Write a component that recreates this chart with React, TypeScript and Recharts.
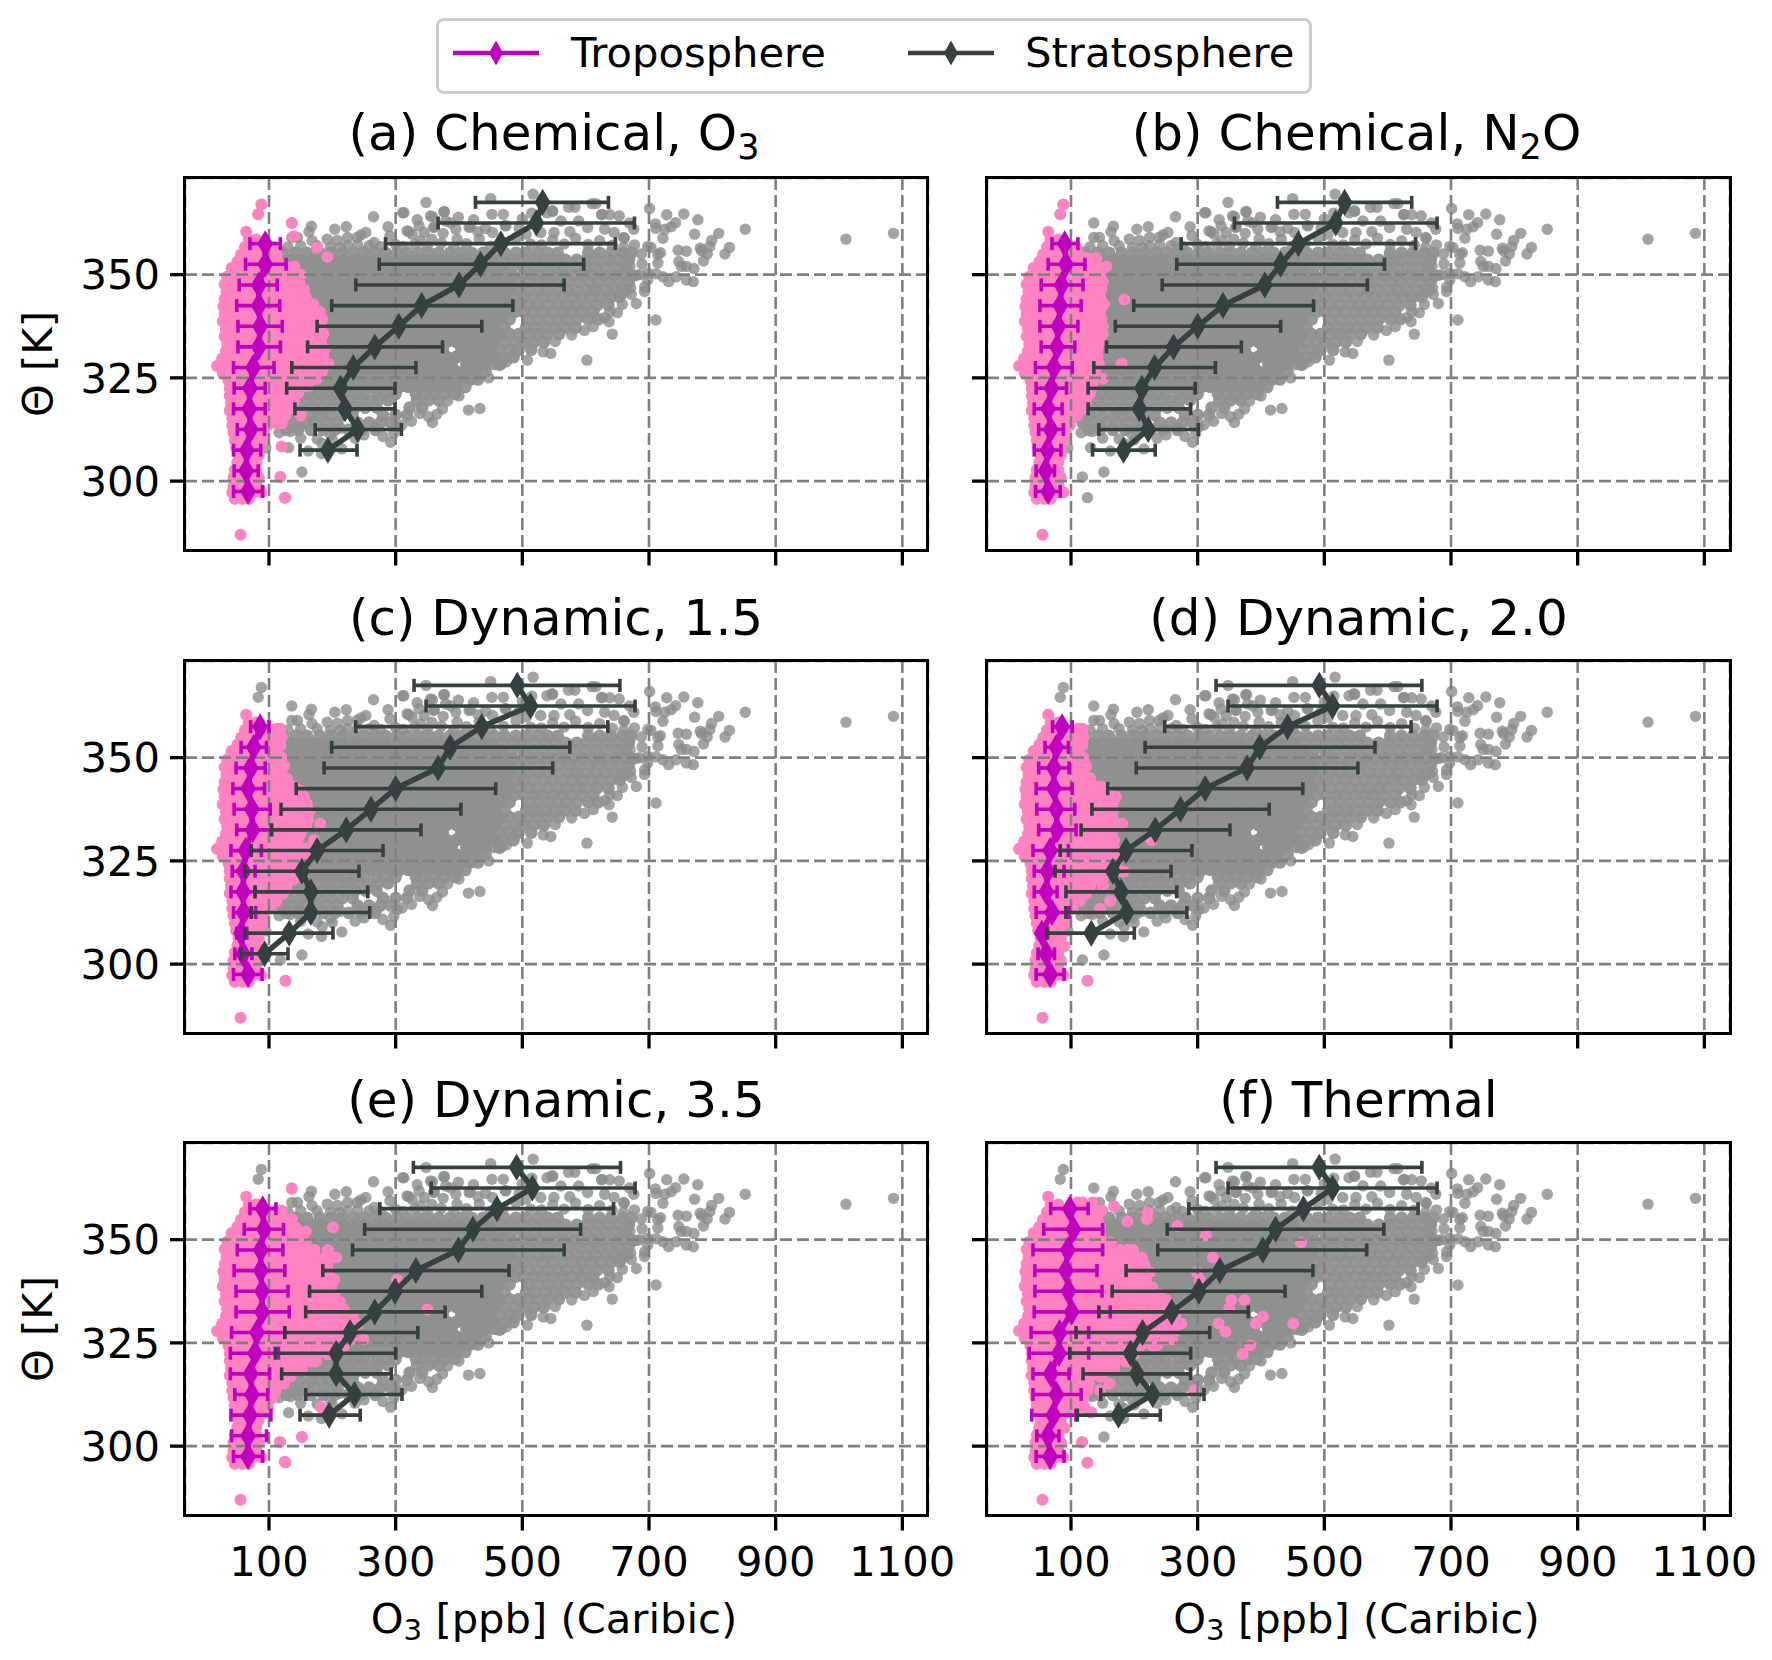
import React from "react";
import { CartesianGrid, ErrorBar, Scatter, ScatterChart, XAxis, YAxis } from "recharts";

const FONT = "'DejaVu Sans', sans-serif";
const MAGENTA = "#bf00bf";
const DARK = "#374040";

const xTicks = [100, 300, 500, 700, 900, 1100];
const yTicks = [300, 325, 350];

// potential temperature bins of the profiles, top down
const thetaTrop = [357.5, 352.5, 347.5, 342.5, 337.5, 332.5, 327.5, 322.5, 317.5, 312.5, 307.5, 302.5, 297.5];
const thetaStrat = [367.5, 362.5, 357.5, 352.5, 347.5, 342.5, 337.5, 332.5, 327.5, 322.5, 317.5, 312.5, 307.5, 302.5];

// [mean, low, high]
const tropA = [[94, 70, 118], [94, 63, 127], [84, 53, 113], [84, 49, 117], [86, 51, 121], [84, 51, 118], [75, 44, 108], [70, 45, 94], [69, 44, 94], [71, 50, 93], [65, 44, 87], [64, 45, 83], [67, 44, 90]];
const stratA = [[532, 426, 636], [522, 367, 677], [466, 284, 647], [434, 274, 597], [400, 237, 566], [341, 199, 485], [305, 176, 436], [267, 161, 374], [233, 136, 332], [213, 128, 299], [220, 141, 299], [240, 173, 309], [193, 149, 239]];
const tropB = [[90, 70, 111], [92, 64, 122], [85, 53, 119], [83, 51, 116], [80, 51, 111], [78, 53, 106], [73, 44, 102], [69, 45, 93], [64, 42, 86], [68, 49, 88], [63, 42, 84], [60, 45, 74], [64, 44, 83]];
const stratB = [[532, 426, 638], [518, 358, 678], [459, 274, 644], [431, 267, 595], [406, 244, 568], [340, 199, 483], [300, 170, 431], [262, 156, 369], [232, 136, 328], [212, 127, 296], [208, 127, 289], [222, 144, 301], [183, 134, 233]];
const tropC = [[86, 71, 100], [76, 56, 96], [71, 48, 94], [67, 43, 93], [73, 45, 102], [74, 49, 104], [63, 40, 88], [60, 42, 78], [59, 40, 78], [60, 44, 79], [56, 49, 65], [59, 46, 73], [67, 44, 89]];
const stratC = [[492, 329, 654], [513, 348, 678], [436, 237, 635], [386, 199, 575], [367, 187, 548], [300, 143, 458], [261, 119, 403], [222, 104, 340], [176, 72, 280], [152, 62, 242], [166, 78, 256], [166, 72, 259], [132, 62, 201], [93, 56, 130]];
const tropD = [[86, 71, 102], [77, 59, 96], [73, 49, 97], [73, 45, 102], [77, 46, 106], [78, 49, 108], [67, 40, 96], [63, 42, 89], [61, 42, 78], [70, 45, 97], [54, 49, 63], [61, 48, 74], [67, 45, 89]];
const stratD = [[492, 329, 654], [513, 348, 678], [442, 248, 637], [398, 217, 580], [378, 203, 553], [312, 158, 466], [273, 133, 413], [233, 116, 351], [187, 83, 291], [166, 75, 258], [179, 92, 267], [188, 92, 283], [132, 62, 200]];
const tropE = [[90, 70, 111], [92, 61, 123], [87, 50, 122], [87, 45, 125], [89, 48, 130], [89, 48, 132], [81, 41, 125], [78, 39, 115], [71, 39, 101], [73, 46, 98], [70, 40, 103], [67, 41, 96], [67, 44, 90]];
const stratE = [[491, 328, 655], [516, 356, 678], [460, 275, 644], [422, 251, 592], [399, 232, 566], [332, 185, 479], [299, 164, 436], [267, 158, 378], [228, 125, 335], [206, 110, 300], [206, 120, 293], [235, 158, 310], [195, 149, 244]];
const tropF = [[98, 68, 127], [104, 57, 150], [95, 40, 150], [92, 43, 141], [96, 43, 149], [101, 42, 162], [82, 37, 128], [81, 34, 128], [68, 40, 97], [77, 40, 116], [72, 38, 108], [64, 46, 81], [67, 45, 89]];
const stratF = [[492, 329, 654], [513, 348, 678], [467, 286, 648], [423, 252, 594], [403, 237, 567], [335, 187, 482], [302, 165, 438], [259, 144, 380], [213, 108, 319], [194, 98, 289], [204, 119, 289], [229, 147, 310], [175, 110, 241]];

// dense part of the Caribic cloud, same in every panel: [theta, O3 values]
const caribicRows: [number, number[]][] = [
  [353.5, [118, 134, 150, 168, 184, 202, 218, 236, 252, 270, 286, 302, 320, 336, 352, 370, 386, 402, 420, 436, 452]],
  [351.7, [124, 140, 156, 172, 188, 206, 222, 238, 254, 272, 288, 304, 320, 336, 354, 370, 386, 402, 418, 436, 452, 468]],
  [349.9, [118, 132, 148, 164, 180, 196, 212, 228, 244, 260, 276, 292, 308, 324, 340, 356, 372, 388, 404, 420, 436, 452, 468]],
  [348.1, [124, 140, 155, 170, 186, 200, 216, 232, 248, 262, 278, 294, 310, 326, 340, 356, 372, 388, 402, 418, 434, 450, 466, 480]],
  [346.3, [118, 132, 147, 162, 178, 192, 207, 222, 238, 252, 268, 282, 298, 314, 328, 344, 358, 374, 388, 404, 420, 434, 450, 464, 480]],
  [344.5, [124, 139, 154, 169, 184, 199, 214, 230, 245, 260, 275, 290, 305, 320, 336, 350, 366, 380, 396, 412, 426, 442, 458, 472]],
  [342.7, [118, 132, 147, 162, 177, 192, 207, 222, 238, 252, 268, 282, 298, 313, 328, 344, 358, 374, 388, 404, 418, 434, 448, 464, 480]],
  [340.9, [124, 139, 154, 169, 184, 199, 214, 230, 245, 260, 275, 290, 305, 320, 336, 350, 366, 380, 396, 412, 426, 442, 456, 472]],
  [339.1, [118, 132, 147, 162, 177, 192, 207, 222, 238, 252, 268, 282, 298, 313, 328, 344, 358, 374, 388, 404, 418, 434, 448, 464]],
  [337.3, [124, 139, 154, 169, 184, 199, 214, 230, 245, 260, 275, 290, 305, 320, 336, 350, 366, 380, 396, 412, 426, 442, 456]],
  [335.5, [118, 132, 147, 162, 177, 192, 207, 222, 238, 252, 268, 282, 298, 313, 328, 344, 358, 374, 388, 404, 418, 434, 448, 464]],
  [333.7, [124, 139, 154, 169, 184, 199, 214, 230, 245, 260, 275, 290, 305, 320, 336, 350, 366, 380, 396, 412, 426, 442, 456]],
  [331.9, [118, 132, 147, 162, 177, 192, 207, 222, 238, 252, 268, 282, 298, 313, 328, 344, 358, 374, 404, 418, 434, 448]],
  [330.1, [124, 139, 154, 169, 184, 199, 214, 230, 245, 260, 275, 290, 305, 320, 336, 350, 366, 380, 396, 412, 426, 442, 456]],
  [328.3, [118, 132, 147, 162, 177, 192, 207, 222, 238, 252, 268, 282, 298, 313, 328, 344, 358, 374, 388, 412, 426, 440]],
  [326.5, [112, 126, 139, 154, 169, 184, 199, 214, 230, 245, 260, 275, 290, 305, 320, 336, 350, 366, 380, 396, 410, 426]],
  [324.7, [118, 132, 147, 162, 177, 192, 207, 222, 238, 252, 268, 282, 298, 313, 328, 344, 358, 374, 388, 404, 418]],
  [322.9, [112, 126, 139, 154, 169, 184, 199, 214, 230, 245, 262, 276, 292, 306, 320, 336, 350, 368, 382, 396]],
];

// looser parts of the cloud, where single dots start to show: [theta, O3 values]
const caribicLooseRows: [number, number[]][] = [
  [355.3, [122, 142, 160, 180, 198, 216, 234, 250, 268, 284, 302, 318, 336, 352, 368, 386, 404, 420, 438, 456, 472, 490, 506, 524, 540, 556, 604, 622, 640, 658, 672]],
  [353.6, [470, 486, 502, 520, 536, 552, 568, 586, 602, 618, 636, 652, 668]],
  [351.8, [484, 502, 518, 534, 550, 566, 584, 600, 616, 632, 650, 664]],
  [349.8, [484, 500, 516, 532, 548, 564, 580, 596, 612, 628, 644, 660, 674]],
  [348.2, [496, 512, 528, 542, 558, 574, 590, 606, 620, 636, 652, 668]],
  [346.2, [496, 510, 526, 540, 556, 572, 586, 602, 616, 632, 648, 664]],
  [344.6, [488, 502, 518, 534, 548, 564, 580, 594, 610, 624, 640, 654]],
  [342.6, [494, 510, 524, 540, 556, 570, 586, 600, 618, 636]],
  [341, [488, 502, 518, 532, 548, 564, 578, 594, 612]],
  [339.2, [480, 510, 524, 540, 556, 570, 586, 604, 620]],
  [337.2, [472, 506, 522, 538, 552, 568, 584]],
  [335.6, [480, 494, 510, 524, 540, 558]],
  [333.6, [472, 488, 502, 518, 534]],
  [331.8, [464, 480, 494, 514]],
  [330, [472, 486]],
  [328.4, [456, 466]],
  [326.6, [442]],
  [324.6, [430]],
  [322.8, [410]],
  [321.1, [118, 132, 147, 162, 177, 192, 207, 222, 238, 250, 270, 284, 300, 332, 346, 362, 378, 394]],
  [319.6, [112, 128, 144, 160, 176, 192, 208, 224, 240, 256, 272, 288, 334, 352, 368]],
  [317.8, [116, 132, 150, 168, 184, 200, 218, 236, 252, 270, 322, 342]],
  [316, [112, 130, 148, 166, 182, 198, 216, 232, 280, 300, 318]],
  [314.2, [118, 136, 156, 172, 190, 208, 240, 258, 276, 292]],
  [312.4, [128, 146, 166, 186, 204, 226, 246, 268]],
];

// sparse points on the rim of the cloud: [O3, theta]
const caribicLoose = [
  [1086, 360], [1011, 358.6], [852, 361], [810, 360], [777, 363.3], [755, 364.7], [728, 364.5], [701, 366], [742, 362.6], [735, 361.6],
  [725, 361], [710, 362.3], [711, 361.2], [722, 358.8], [772, 359.8], [799, 358.3], [796, 356.8], [781, 356.4], [783, 355.8], [792, 355],
  [786, 353.3], [827, 356.6], [820, 355], [746, 355.9], [759, 355.7], [718, 355.3], [714, 354.9], [714, 352.8], [747, 353.2], [759, 352],
  [771, 351.5], [751, 352], [770, 348.3], [759, 348.7], [743, 349.5], [731, 348.3], [722, 349.5], [711, 350.2], [685, 350], [698, 350.3],
  [698, 356.8], [703, 356.6], [689, 352.6], [693, 347], [698, 348.7], [680, 343], [693, 345.9], [711, 339], [642, 335.6], [637, 338.6],
  [638, 341], [658, 342.8], [656, 345.5], [671, 346.7], [670, 352], [669, 353.6], [677, 357.2], [661, 358.8], [676, 361], [669, 362.5],
  [653, 364.2], [638, 364.5], [625, 364.5], [616, 367.2], [610, 367.2], [583, 366.3], [573, 366.3], [548, 365.3], [517, 369.5], [515, 364.9],
  [470, 364.6], [452, 364.6], [450, 368.4], [348, 367.5], [377, 365.3], [358, 364], [361, 361.6], [334, 363.3], [337, 361.8], [313, 365],
  [321, 360.4], [423, 363.3], [399, 363.9], [387, 362.5], [418, 361.6], [442, 361.2], [473, 361.9], [500, 363.5], [602, 329.3], [533, 331.3],
  [545, 330.9], [508, 329.3], [433, 317.6], [415, 317.2], [374, 317.5], [365, 316.2], [358, 314.2], [325, 314.5], [447, 325], [464, 328],
  [475, 328.9], [488, 331], [292, 309.4], [297, 311.6], [302, 313.2], [215, 307.8], [183, 306.7], [184, 309.1], [162, 307.3], [131, 308.1],
  [152, 302.2], [95, 308], [116, 311.7], [147, 313.3], [134, 312], [197, 311.2], [213, 312.8], [268, 312.8], [250, 311.2], [118, 301],
  [126, 296], [88, 367], [83, 364.6], [136, 362.5], [136, 359], [145, 359], [167, 361.7], [163, 360.4], [204, 361], [222, 361.6],
  [265, 364], [288, 361.6], [311, 365], [355, 364.2], [376, 365.2], [192, 358.6], [208, 358.3], [168, 358.2], [176, 357], [253, 360.2],
  [245, 359.6], [239, 359], [266, 357.8], [224, 359], [224, 357], [197, 356.6], [213, 356.6], [291, 359.4], [318, 360.6], [326, 359.8],
  [339, 358.2], [360, 361.4], [357, 358.6], [379, 363], [397, 358.6], [416, 361.4], [453, 360.2], [474, 361.8], [529, 360.2], [539, 365],
  [547, 365.5], [561, 363], [589, 363], [603, 361.4], [626, 364.6], [645, 360.2], [660, 359], [513, 357.4], [550, 360.2], [300, 357.3],
  [312, 356.8], [330, 357.4], [350, 356.9], [372, 357.6], [392, 356.7], [412, 357.5], [432, 358.6], [450, 356.9], [470, 357.6], [490, 358.9],
  [506, 359.8], [530, 357.2], [548, 358.4], [566, 357.4], [584, 358.8], [604, 357.3], [622, 358.2], [642, 357.1], [660, 356.6], [258, 357],
  [276, 356.8], [240, 357.2], [150, 357], [130, 356.7], [345, 360.2], [375, 360], [395, 361], [430, 360.4], [495, 361.2], [575, 360.4],
  [630, 361], [688, 355], [680, 349.8], [672, 345.2], [650, 340.8], [630, 339.6], [612, 337.4], [598, 336.5], [578, 335.4], [552, 333.8],
  [382, 319.4], [400, 320.6], [352, 315.6], [338, 316.4], [310, 313.6], [280, 310.8], [236, 310.4], [176, 310.2], [200, 310], [150, 310.4],
];

// pink points shared by all panels: [theta, O3 values]
const tropCoreRows: [number, number[]][] = [
  [358.5, [68, 80]], [356.7, [62, 75, 88, 100, 108]], [354.9, [56, 68, 80, 92, 104, 112]], [353.1, [50, 62, 74, 88, 102, 114]],
  [351.3, [44, 58, 72, 86, 100, 112]], [349.5, [34, 46, 58, 70, 82, 96, 110]], [347.7, [30, 44, 58, 72, 86, 100, 114]], [345.9, [33, 46, 58, 70, 82, 94, 108, 120]],
  [344.1, [30, 44, 58, 72, 86, 100, 114]], [342.3, [28, 40, 52, 64, 78, 92, 106, 120]], [340.5, [30, 42, 56, 70, 84, 98, 112]], [338.7, [27, 40, 52, 64, 78, 92, 106, 120]],
  [336.9, [32, 44, 56, 70, 84, 98, 112]], [335.1, [30, 42, 54, 66, 78, 92, 106, 120]], [333.3, [34, 44, 56, 70, 84, 98, 112]], [331.5, [32, 44, 56, 68, 82, 96, 110, 122]],
  [329.7, [26, 38, 50, 62, 76, 90, 104, 118]], [327.9, [18, 30, 42, 54, 68, 82, 96, 110]], [326.1, [27, 40, 52, 64, 78, 92, 106, 118]], [324.3, [36, 46, 58, 72, 86, 100, 114]],
  [322.5, [38, 50, 62, 76, 90, 104, 116]], [320.7, [38, 48, 60, 74, 88, 102, 112]], [318.9, [40, 52, 64, 78, 92, 104]], [317.1, [38, 48, 60, 74, 88, 100]],
  [315.3, [42, 52, 64, 78, 90, 102]], [313.5, [42, 52, 62, 76, 90, 98]], [311.7, [44, 56, 68, 82, 92]], [309.9, [46, 56, 66, 80, 90]], [308.1, [48, 58, 70, 82]],
  [306.3, [52, 62, 74, 84]], [304.5, [50, 60, 70, 80]], [302.7, [46, 56, 68, 80]], [300.9, [44, 54, 64, 76, 84]], [299.1, [46, 56, 68, 80]],
  [297.3, [42, 50, 62, 76, 88]], [295.7, [46, 58, 68]],
];

// single pink dots found in all panels: [O3, theta]
const tropLoose = [[55, 287], [64, 360.4], [41, 351.6], [44, 298.8]];

// how far the pink reaches into the cloud, per panel
const tropExtraA: [number, number[]][] = [
  [367, [88]], [364.6, [83]], [362.5, [136]], [359.3, [139]], [356.6, [176]], [354.3, [192]], [352, [126, 140]], [350, [124, 138, 150]], [348.2, [126, 140, 148]],
  [346.4, [130, 144, 155]], [344.6, [130, 145, 158]], [342.8, [134, 148, 164, 170]], [341, [128, 143, 158, 172, 180]], [339.2, [134, 150, 166, 178, 184]],
  [337.4, [130, 145, 160, 175, 182]], [335.6, [134, 148, 164, 178, 186]], [333.8, [130, 146, 162, 178, 182]], [332, [134, 150, 166, 180, 188]], [330.2, [130, 146, 162, 178, 186]],
  [328.4, [126, 142, 158, 174, 186, 194]], [326.6, [130, 146, 162, 176, 184]], [324.8, [126, 142, 158, 172, 176]], [323, [128, 142, 156, 162]], [321.2, [126, 140, 146]],
  [319.4, [118, 132, 140]], [317.6, [114, 128, 136]], [315.8, [114, 126, 150]], [314, [112, 120]], [308.4, [120]], [301, [118]], [296, [125]],
];
const tropExtraB: [number, number[]][] = [
  [367, [88]], [364.6, [83]], [354, [125, 140]], [352, [126, 142, 156]], [350, [126, 140, 148]], [348.2, [128, 142, 150]], [346.4, [130, 144, 148]], [344.6, [128, 142, 146]],
  [344, [184]], [342.8, [132, 146, 152]], [341, [128, 142, 146]], [339.2, [132, 146, 148]], [337.4, [128, 142, 150]], [335.6, [132, 146, 150]], [333.8, [128, 142, 146]],
  [332, [132, 142]], [330.2, [128, 142]], [328.4, [124, 138, 144, 180]], [326.6, [124, 138]], [324.8, [124, 138, 150]], [323, [126, 134]], [321.2, [124, 130]],
  [319.4, [116, 124]], [317.6, [114, 122]], [315.8, [110]],
];
const tropExtraC: [number, number[]][] = [
  [357, [112, 118]], [355, [114, 120]], [353, [118]], [350, [120]], [348, [120, 124]], [345, [122, 128]], [343, [125, 135, 140]], [342, [130, 140, 150]], [340.5, [125, 140, 155]],
  [338.7, [130, 145, 160]], [337, [126, 140, 155, 164]], [335.1, [125, 140, 155, 162]], [334, [181]], [333.3, [130, 145, 158]], [331.5, [125, 140, 150]], [330, [130, 145, 171]],
  [328, [125, 140, 155, 160]], [326.1, [125, 138, 155, 162]], [324.3, [122, 136, 146]], [322.5, [125, 134, 140]], [320.7, [122, 135, 140]], [319, [118, 128]], [317.1, [116, 122]],
  [315.3, [104, 112]], [313.5, [102]], [296, [126]],
];
const tropExtraD: [number, number[]][] = [
  [357, [112, 118]], [355, [114, 120]], [353, [118]], [350, [120]], [348, [120, 124]], [345, [122, 130]], [343, [125, 140, 148]], [342, [130, 148, 158]], [340.5, [125, 140, 155, 171]],
  [338.7, [130, 145, 160, 166]], [337, [126, 140, 155, 166]], [335.1, [125, 140, 155, 166]], [334, [181]], [333.3, [130, 145, 160, 166]], [331.5, [125, 140, 155, 164]], [330, [130, 145, 160, 168, 227]],
  [328, [125, 140, 155, 168]], [326.1, [125, 140, 155, 170]], [324.3, [122, 136, 150, 165, 172]], [322.4, [125, 140, 155, 170, 183]], [320.7, [122, 135, 146, 150]], [319, [118, 130, 150]],
  [317.1, [116, 124]], [315.3, [108, 114, 162]], [313.4, [102, 146]], [304.4, [90]], [296, [126]],
];
const tropExtraE: [number, number[]][] = [
  [362.3, [136]], [357, [112, 120]], [355, [118, 130, 136]], [353, [122, 136, 142, 201]], [352, [158]], [351, [126, 140, 148]], [349.3, [126, 140, 152, 158]], [347.5, [130, 144, 158, 172, 193]],
  [345.7, [126, 140, 156, 172, 188, 206]], [343.9, [130, 146, 162, 178, 192]], [342.1, [126, 142, 158, 174, 190, 194]], [340.3, [130, 146, 162, 178, 192, 203, 302]], [338.5, [126, 142, 158, 174, 190, 198]],
  [336.7, [130, 146, 162, 178, 196, 204]], [334.9, [126, 142, 158, 174, 190, 206, 212]], [333.1, [130, 146, 162, 178, 196, 210, 218, 350]], [331.3, [126, 142, 158, 174, 190, 206, 224, 232]],
  [329.5, [130, 146, 162, 178, 196, 214, 232, 240]], [327.7, [126, 142, 158, 174, 190, 208, 222, 232]], [325.9, [130, 146, 162, 178, 196, 214, 230, 249]], [324.1, [126, 142, 158, 176, 192, 210, 218]],
  [322.3, [128, 144, 160, 176, 192, 198]], [320.5, [122, 138, 154, 168, 174]], [318.7, [116, 132, 148, 152]], [316.9, [112, 128, 134]], [315.1, [108, 118, 124]], [313.3, [100, 110]], [311.5, [100, 104]],
  [309.5, [98, 182]], [302.2, [152]], [301, [117]], [296.2, [125]],
];
const tropExtraF: [number, number[]][] = [
  [359, [110, 118, 134]], [358, [168]], [357, [112, 128, 142, 148]], [356.6, [221]], [355, [118, 134, 142, 220]], [354.4, [189]], [353.3, [122, 138, 146, 268]], [351, [125, 140, 146, 313]],
  [349.3, [125, 140, 155, 163, 463]], [347.5, [130, 146, 162, 178, 190, 198]], [345.7, [126, 142, 158, 174, 190, 206, 212, 324]], [343.9, [130, 146, 162, 178, 194, 210, 216]],
  [342.1, [126, 142, 158, 174, 190, 206, 216, 224, 299]], [340.3, [130, 146, 162, 178, 194, 210, 218, 303]], [338.5, [126, 142, 158, 174, 190, 206, 222, 228]], [336.7, [130, 146, 162, 178, 194, 212, 230, 240]],
  [335.4, [126, 142, 158, 174, 190, 206, 224, 240, 250, 353, 374]], [333.3, [130, 146, 162, 178, 194, 212, 230, 248, 254, 350]], [331.3, [126, 142, 158, 174, 190, 206, 224, 240, 254, 264, 403]],
  [329.7, [130, 146, 162, 178, 194, 212, 230, 248, 264, 274, 333, 392, 451]], [327.7, [126, 142, 158, 174, 190, 206, 224, 240, 256, 264, 344]], [325.9, [130, 146, 162, 178, 194, 212, 230, 250, 260]],
  [324.4, [126, 142, 158, 174, 190, 210, 228, 236, 383]], [322.3, [128, 144, 160, 176, 192, 200, 371]], [320.5, [122, 138, 154, 170, 186, 190]], [318.7, [118, 134, 150, 160, 168]], [316.9, [114, 130, 146, 148]],
  [315.1, [110, 124, 128, 161]], [313.5, [108, 122, 126, 146, 295]], [311.5, [106, 114, 120]], [309.4, [104, 113, 121]], [308.2, [132]], [304.4, [90]], [300.9, [117]], [296, [126]],
];

const fromRows = (rows: [number, number[]][]) => rows.flatMap(([y, xs]) => xs.map((x) => ({ x, y })));
const fromPairs = (pairs: number[][]) => pairs.map(([x, y]) => ({ x, y }));
const grayDense = fromRows(caribicRows);
const grayMid = fromRows(caribicLooseRows);
const grayRim = fromPairs(caribicLoose);
const tropCorePoints = [...fromRows(tropCoreRows), ...fromPairs(tropLoose)];
const toProfile = (stats: number[][], thetas: number[]) =>
  stats.map(([x, lo, hi], i) => ({ x, y: thetas[i], err: [x - lo, hi - x] }));

const colLeft = [184.5, 987];
const rowTop = [178, 660.5, 1143];
const PLOT_W = 743;
const PLOT_H = 372.5;

const Sub = ({ children }: { children: React.ReactNode }) => (
  <sub style={{ fontSize: "70%", lineHeight: 0, verticalAlign: "-0.25em" }}>{children}</sub>
);

const panels = [
  { title: <>(a) Chemical, O<Sub>3</Sub></>, col: 0, row: 0, trop: tropA, strat: stratA, extra: tropExtraA },
  { title: <>(b) Chemical, N<Sub>2</Sub>O</>, col: 1, row: 0, trop: tropB, strat: stratB, extra: tropExtraB },
  { title: <>(c) Dynamic, 1.5</>, col: 0, row: 1, trop: tropC, strat: stratC, extra: tropExtraC },
  { title: <>(d) Dynamic, 2.0</>, col: 1, row: 1, trop: tropD, strat: stratD, extra: tropExtraD },
  { title: <>(e) Dynamic, 3.5</>, col: 0, row: 2, trop: tropE, strat: stratE, extra: tropExtraE },
  { title: <>(f) Thermal</>, col: 1, row: 2, trop: tropF, strat: stratF, extra: tropExtraF },
];

const Dot = (fill: string, r: number, opacity: number) => (p: any) => <circle cx={p.cx} cy={p.cy} r={r} fill={fill} fillOpacity={opacity} />;
const Diamond = (fill: string) => (p: any) => (
  <path d={`M${p.cx},${p.cy - 13.5}L${p.cx + 8},${p.cy}L${p.cx},${p.cy + 13.5}L${p.cx - 8},${p.cy}Z`} fill={fill} />
);

const tickStyle = { fontSize: 41.67, fill: "#000", fontFamily: FONT };
const tickLine = { stroke: "#000", strokeWidth: 3.3 };
const noLabel = () => "";

function Panel({ panel }: { panel: (typeof panels)[number] }) {
  const left = colLeft[panel.col];
  const top = rowTop[panel.row];
  const pink = [...tropCorePoints, ...fromRows(panel.extra)];
  return (
    <>
      <div style={{ position: "absolute", left: left - 110, top: top - 10 }}>
        <ScatterChart width={PLOT_W + 170} height={PLOT_H + 90} margin={{ top: 10, right: 60, bottom: 0, left: 0 }}>
          <XAxis
            type="number"
            dataKey="x"
            domain={[-32.6, 1140.5]}
            ticks={xTicks}
            interval={0}
            height={80}
            allowDataOverflow
            axisLine={false}
            tickLine={tickLine}
            tickSize={15}
            tickMargin={16}
            tick={tickStyle}
            tickFormatter={panel.row === 2 ? undefined : noLabel}
          />
          <YAxis
            type="number"
            dataKey="y"
            domain={[283.2, 373.4]}
            ticks={yTicks}
            interval={0}
            width={110}
            allowDataOverflow
            axisLine={false}
            tickLine={tickLine}
            tickSize={15}
            tickMargin={10}
            tick={tickStyle}
            tickFormatter={panel.col === 0 ? undefined : noLabel}
          />
          <Scatter data={grayRim} shape={Dot("#8a8d8a", 5.7, 0.8)} isAnimationActive={false} zIndex={600} />
          <Scatter data={grayMid} shape={Dot("#8f918f", 6.3, 0.94)} isAnimationActive={false} zIndex={601} />
          <Scatter data={grayDense} shape={Dot("#8f918f", 6.5, 1)} isAnimationActive={false} zIndex={602} />
          <Scatter data={pink} shape={Dot("#ff82c1", 6, 1)} isAnimationActive={false} zIndex={603} />
          <CartesianGrid stroke="#808080" strokeWidth={2.6} strokeDasharray="12 5" zIndex={604} />
          <Scatter
            data={toProfile(panel.trop, thetaTrop)}
            shape={Diamond(MAGENTA)}
            line={{ stroke: MAGENTA, strokeWidth: 5.5 }}
            isAnimationActive={false}
            zIndex={611}
          >
            <ErrorBar dataKey="err" direction="x" stroke={MAGENTA} strokeWidth={3.6} width={6.5} isAnimationActive={false} zIndex={610} />
          </Scatter>
          <Scatter
            data={toProfile(panel.strat, thetaStrat)}
            shape={Diamond(DARK)}
            line={{ stroke: DARK, strokeWidth: 5.5 }}
            isAnimationActive={false}
            zIndex={621}
          >
            <ErrorBar dataKey="err" direction="x" stroke={DARK} strokeWidth={3.6} width={6.5} isAnimationActive={false} zIndex={620} />
          </Scatter>
        </ScatterChart>
      </div>
      <div
        style={{
          position: "absolute",
          left: left - 1.65,
          top: top - 1.65,
          width: PLOT_W + 3.3,
          height: PLOT_H + 3.3,
          boxSizing: "border-box",
          border: "3.3px solid #000",
          pointerEvents: "none",
        }}
      />
      <div
        style={{
          position: "absolute",
          left: panel.row === 0 ? left - 2 : left,
          top: panel.row === 0 ? top - 75 : top - 73,
          width: PLOT_W,
          textAlign: "center",
          fontSize: 50,
          lineHeight: "60px",
          whiteSpace: "nowrap",
        }}
      >
        {panel.title}
      </div>
      {panel.col === 0 && panel.row !== 1 && (
        <div
          style={{
            position: "absolute",
            left: 38 - 100,
            top: top + PLOT_H / 2 - 25,
            width: 200,
            textAlign: "center",
            fontSize: 41.67,
            lineHeight: "50px",
            transform: "rotate(-90deg)",
          }}
        >
          Θ [K]
        </div>
      )}
      {panel.row === 2 && (
        <div style={{ position: "absolute", left: left - 2, top: 1594, width: PLOT_W, textAlign: "center", fontSize: 41.67, lineHeight: "50px", whiteSpace: "nowrap" }}>
          O<Sub>3</Sub> [ppb] (Caribic)
        </div>
      )}
    </>
  );
}

function LegendHandle({ color, left }: { color: string; left: number }) {
  return (
    <svg style={{ position: "absolute", left, top: 0 }} width={90} height={76}>
      <line x1={1} x2={87} y1={32} y2={32} stroke={color} strokeWidth={4.5} />
      <path d="M44,19.5L51,32L44,44.5L37,32Z" fill={color} />
    </svg>
  );
}

export default function App() {
  return (
    <div style={{ position: "absolute", left: 0, top: 0, width: 1772, height: 1660, fontFamily: FONT, color: "#000", background: "#fff", overflow: "hidden" }}>
      <div
        style={{
          position: "absolute",
          left: 436,
          top: 18,
          width: 876,
          height: 76,
          boxSizing: "border-box",
          border: "3.3px solid #ccc",
          borderRadius: 8,
          fontSize: 41.67,
          lineHeight: "64px",
        }}
      >
        <LegendHandle color={MAGENTA} left={13} />
        <span style={{ position: "absolute", left: 132, top: 0 }}>Troposphere</span>
        <LegendHandle color={DARK} left={468} />
        <span style={{ position: "absolute", left: 586, top: 0 }}>Stratosphere</span>
      </div>
      {panels.map((p, i) => (
        <Panel key={i} panel={p} />
      ))}
    </div>
  );
}
